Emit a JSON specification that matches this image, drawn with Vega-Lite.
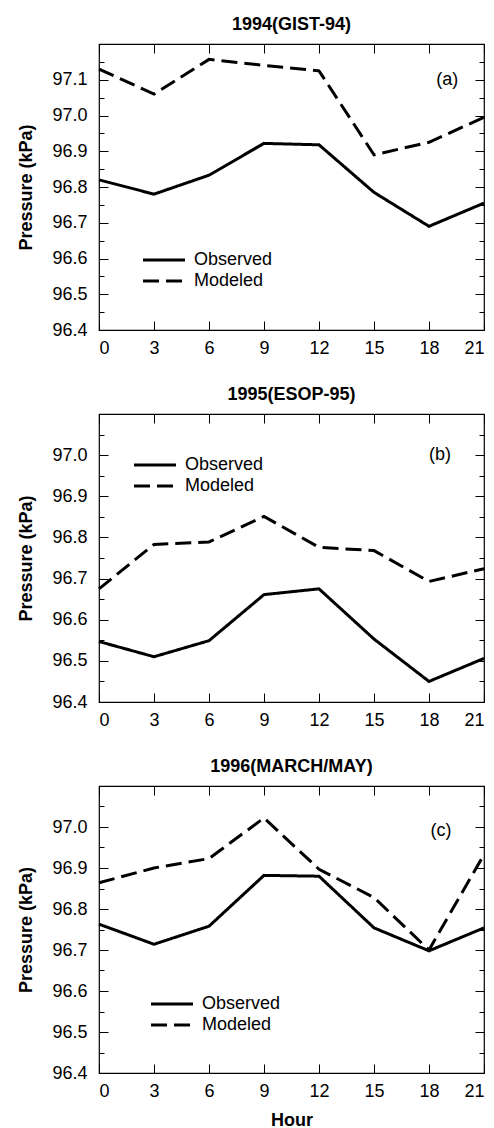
{
  "$schema": "https://vega.github.io/schema/vega-lite/v6.json",
  "background": "white",
  "padding": {"left": 17, "top": 14, "right": 0, "bottom": 0},
  "spacing": 26,
  "config": {
    "font": "Liberation Sans",
    "view": {"stroke": "black", "strokeWidth": 1.2},
    "axis": {"grid": false, "domain": false, "tickColor": "black", "tickWidth": 1, "labelColor": "black", "labelFont": "Liberation Sans", "labelFontSize": 18, "titleFont": "Liberation Sans", "titleFontSize": 18, "titleFontWeight": "bold", "titleColor": "black"},
    "axisX": {"labelPadding": 18},
    "axisY": {"labelPadding": 21},
    "title": {"font": "Liberation Sans", "fontSize": 18, "fontWeight": "bold", "color": "black", "anchor": "middle", "offset": 10},
    "legend": {"labelFont": "Liberation Sans", "labelFontSize": 18, "labelColor": "black", "symbolType": "M-2,0H2", "symbolStrokeColor": "black", "symbolStrokeWidth": 3, "symbolSize": 441, "labelOffset": 18, "padding": 0, "rowPadding": -3, "title": null}
  },
  "datasets": {
    "p1": [
      {"hour": 0, "pressure": 96.82, "series": "Observed"},
      {"hour": 3, "pressure": 96.78, "series": "Observed"},
      {"hour": 6, "pressure": 96.833, "series": "Observed"},
      {"hour": 9, "pressure": 96.922, "series": "Observed"},
      {"hour": 12, "pressure": 96.918, "series": "Observed"},
      {"hour": 15, "pressure": 96.785, "series": "Observed"},
      {"hour": 18, "pressure": 96.69, "series": "Observed"},
      {"hour": 21, "pressure": 96.755, "series": "Observed"},
      {"hour": 0, "pressure": 97.13, "series": "Modeled"},
      {"hour": 3, "pressure": 97.06, "series": "Modeled"},
      {"hour": 6, "pressure": 97.157, "series": "Modeled"},
      {"hour": 9, "pressure": 97.14, "series": "Modeled"},
      {"hour": 12, "pressure": 97.125, "series": "Modeled"},
      {"hour": 15, "pressure": 96.89, "series": "Modeled"},
      {"hour": 18, "pressure": 96.925, "series": "Modeled"},
      {"hour": 21, "pressure": 96.995, "series": "Modeled"}
    ],
    "p2": [
      {"hour": 0, "pressure": 96.547, "series": "Observed"},
      {"hour": 3, "pressure": 96.51, "series": "Observed"},
      {"hour": 6, "pressure": 96.549, "series": "Observed"},
      {"hour": 9, "pressure": 96.661, "series": "Observed"},
      {"hour": 12, "pressure": 96.675, "series": "Observed"},
      {"hour": 15, "pressure": 96.553, "series": "Observed"},
      {"hour": 18, "pressure": 96.45, "series": "Observed"},
      {"hour": 21, "pressure": 96.506, "series": "Observed"},
      {"hour": 0, "pressure": 96.675, "series": "Modeled"},
      {"hour": 3, "pressure": 96.783, "series": "Modeled"},
      {"hour": 6, "pressure": 96.789, "series": "Modeled"},
      {"hour": 9, "pressure": 96.851, "series": "Modeled"},
      {"hour": 12, "pressure": 96.776, "series": "Modeled"},
      {"hour": 15, "pressure": 96.768, "series": "Modeled"},
      {"hour": 18, "pressure": 96.693, "series": "Modeled"},
      {"hour": 21, "pressure": 96.724, "series": "Modeled"}
    ],
    "p3": [
      {"hour": 0, "pressure": 96.763, "series": "Observed"},
      {"hour": 3, "pressure": 96.714, "series": "Observed"},
      {"hour": 6, "pressure": 96.758, "series": "Observed"},
      {"hour": 9, "pressure": 96.882, "series": "Observed"},
      {"hour": 12, "pressure": 96.88, "series": "Observed"},
      {"hour": 15, "pressure": 96.754, "series": "Observed"},
      {"hour": 18, "pressure": 96.698, "series": "Observed"},
      {"hour": 21, "pressure": 96.754, "series": "Observed"},
      {"hour": 0, "pressure": 96.864, "series": "Modeled"},
      {"hour": 3, "pressure": 96.9, "series": "Modeled"},
      {"hour": 6, "pressure": 96.923, "series": "Modeled"},
      {"hour": 9, "pressure": 97.022, "series": "Modeled"},
      {"hour": 12, "pressure": 96.897, "series": "Modeled"},
      {"hour": 15, "pressure": 96.828, "series": "Modeled"},
      {"hour": 18, "pressure": 96.7, "series": "Modeled"},
      {"hour": 21, "pressure": 96.933, "series": "Modeled"}
    ],
    "l1": [{"hour": 19, "pressure": 97.1, "label": "(a)"}],
    "l2": [{"hour": 18.6, "pressure": 97.0, "label": "(b)"}],
    "l3": [{"hour": 18.65, "pressure": 96.99, "label": "(c)"}]
  },
  "vconcat": [
    {
      "width": 385, "height": 286,
      "title": "1994(GIST-94)",
      "resolve": {"axis": {"x": "independent", "y": "independent"}},
      "layer": [
        {
          "data": {"name": "p1"},
          "mark": {"type": "line", "color": "black", "strokeWidth": 3},
          "encoding": {
            "x": {"field": "hour", "type": "quantitative", "scale": {"domain": [0, 21], "nice": false}, "axis": {"orient": "bottom", "values": [0, 3, 6, 9, 12, 15, 18, 21], "tickSize": -9, "title": null}},
            "y": {"field": "pressure", "type": "quantitative", "scale": {"domain": [96.4, 97.2], "nice": false, "zero": false}, "axis": {"orient": "left", "values": [96.4, 96.5, 96.6, 96.7, 96.8, 96.9, 97.0, 97.1], "format": ".1f", "tickSize": -9, "title": "Pressure (kPa)", "titlePadding": 16}},
            "strokeDash": {"field": "series", "type": "nominal", "scale": {"domain": ["Observed", "Modeled"], "range": [[1, 0], [16, 7]]}, "legend": {"orient": "none", "legendX": 53, "legendY": 204}}
          }
        },
        {
          "data": {"name": "l1"},
          "mark": {"type": "text", "fontSize": 18, "color": "black", "font": "Liberation Sans"},
          "encoding": {
            "x": {"field": "hour", "type": "quantitative", "axis": {"orient": "top", "values": [0, 3, 6, 9, 12, 15, 18, 21], "tickSize": -9, "labels": false, "title": null}},
            "y": {"field": "pressure", "type": "quantitative", "axis": {"orient": "right", "values": [96.4, 96.5, 96.6, 96.7, 96.8, 96.9, 97.0, 97.1], "tickSize": -9, "labels": false, "title": null}},
            "text": {"field": "label"}
          }
        },
        {
          "data": {"name": "p1"},
          "mark": {"type": "point", "opacity": 0},
          "encoding": {
            "y": {"field": "pressure", "type": "quantitative", "axis": {"orient": "left", "values": [96.45, 96.55, 96.65, 96.75, 96.85, 96.95, 97.05, 97.15], "tickSize": -5, "labels": false, "title": null}}
          }
        },
        {
          "data": {"name": "p1"},
          "mark": {"type": "point", "opacity": 0},
          "encoding": {
            "y": {"field": "pressure", "type": "quantitative", "axis": {"orient": "right", "values": [96.45, 96.55, 96.65, 96.75, 96.85, 96.95, 97.05, 97.15], "tickSize": -5, "labels": false, "title": null}}
          }
        }
      ]
    },
    {
      "width": 385, "height": 288,
      "title": "1995(ESOP-95)",
      "resolve": {"axis": {"x": "independent", "y": "independent"}},
      "layer": [
        {
          "data": {"name": "p2"},
          "mark": {"type": "line", "color": "black", "strokeWidth": 3},
          "encoding": {
            "x": {"field": "hour", "type": "quantitative", "scale": {"domain": [0, 21], "nice": false}, "axis": {"orient": "bottom", "values": [0, 3, 6, 9, 12, 15, 18, 21], "tickSize": -9, "title": null}},
            "y": {"field": "pressure", "type": "quantitative", "scale": {"domain": [96.4, 97.1], "nice": false, "zero": false}, "axis": {"orient": "left", "values": [96.4, 96.5, 96.6, 96.7, 96.8, 96.9, 97.0], "format": ".1f", "tickSize": -9, "title": "Pressure (kPa)", "titlePadding": 16}},
            "strokeDash": {"field": "series", "type": "nominal", "scale": {"domain": ["Observed", "Modeled"], "range": [[1, 0], [16, 7]]}, "legend": {"orient": "none", "legendX": 44, "legendY": 39}}
          }
        },
        {
          "data": {"name": "l2"},
          "mark": {"type": "text", "fontSize": 18, "color": "black", "font": "Liberation Sans"},
          "encoding": {
            "x": {"field": "hour", "type": "quantitative", "axis": {"orient": "top", "values": [0, 3, 6, 9, 12, 15, 18, 21], "tickSize": -9, "labels": false, "title": null}},
            "y": {"field": "pressure", "type": "quantitative", "axis": {"orient": "right", "values": [96.4, 96.5, 96.6, 96.7, 96.8, 96.9, 97.0], "tickSize": -9, "labels": false, "title": null}},
            "text": {"field": "label"}
          }
        },
        {
          "data": {"name": "p2"},
          "mark": {"type": "point", "opacity": 0},
          "encoding": {
            "y": {"field": "pressure", "type": "quantitative", "axis": {"orient": "left", "values": [96.45, 96.55, 96.65, 96.75, 96.85, 96.95, 97.05], "tickSize": -5, "labels": false, "title": null}}
          }
        },
        {
          "data": {"name": "p2"},
          "mark": {"type": "point", "opacity": 0},
          "encoding": {
            "y": {"field": "pressure", "type": "quantitative", "axis": {"orient": "right", "values": [96.45, 96.55, 96.65, 96.75, 96.85, 96.95, 97.05], "tickSize": -5, "labels": false, "title": null}}
          }
        }
      ]
    },
    {
      "width": 385, "height": 287,
      "title": "1996(MARCH/MAY)",
      "resolve": {"axis": {"x": "independent", "y": "independent"}},
      "layer": [
        {
          "data": {"name": "p3"},
          "mark": {"type": "line", "color": "black", "strokeWidth": 3},
          "encoding": {
            "x": {"field": "hour", "type": "quantitative", "scale": {"domain": [0, 21], "nice": false}, "axis": {"orient": "bottom", "values": [0, 3, 6, 9, 12, 15, 18, 21], "tickSize": -9, "title": "Hour", "titlePadding": 11}},
            "y": {"field": "pressure", "type": "quantitative", "scale": {"domain": [96.4, 97.1], "nice": false, "zero": false}, "axis": {"orient": "left", "values": [96.4, 96.5, 96.6, 96.7, 96.8, 96.9, 97.0], "format": ".1f", "tickSize": -9, "title": "Pressure (kPa)", "titlePadding": 16}},
            "strokeDash": {"field": "series", "type": "nominal", "scale": {"domain": ["Observed", "Modeled"], "range": [[1, 0], [16, 7]]}, "legend": {"orient": "none", "legendX": 61, "legendY": 206}}
          }
        },
        {
          "data": {"name": "l3"},
          "mark": {"type": "text", "fontSize": 18, "color": "black", "font": "Liberation Sans"},
          "encoding": {
            "x": {"field": "hour", "type": "quantitative", "axis": {"orient": "top", "values": [0, 3, 6, 9, 12, 15, 18, 21], "tickSize": -9, "labels": false, "title": null}},
            "y": {"field": "pressure", "type": "quantitative", "axis": {"orient": "right", "values": [96.4, 96.5, 96.6, 96.7, 96.8, 96.9, 97.0], "tickSize": -9, "labels": false, "title": null}},
            "text": {"field": "label"}
          }
        },
        {
          "data": {"name": "p3"},
          "mark": {"type": "point", "opacity": 0},
          "encoding": {
            "y": {"field": "pressure", "type": "quantitative", "axis": {"orient": "left", "values": [96.45, 96.55, 96.65, 96.75, 96.85, 96.95, 97.05], "tickSize": -5, "labels": false, "title": null}}
          }
        },
        {
          "data": {"name": "p3"},
          "mark": {"type": "point", "opacity": 0},
          "encoding": {
            "y": {"field": "pressure", "type": "quantitative", "axis": {"orient": "right", "values": [96.45, 96.55, 96.65, 96.75, 96.85, 96.95, 97.05], "tickSize": -5, "labels": false, "title": null}}
          }
        }
      ]
    }
  ],
  "resolve": {"scale": {"strokeDash": "independent", "y": "independent"}, "legend": {"strokeDash": "independent"}}
}
